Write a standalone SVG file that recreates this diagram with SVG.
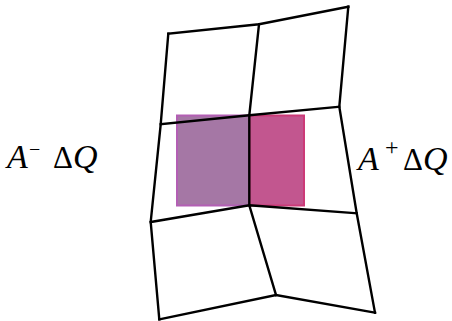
<svg xmlns="http://www.w3.org/2000/svg" width="452" height="321" viewBox="0 0 452 321">
<style>
.grid{fill:none;stroke:#000;stroke-width:2.4;stroke-linejoin:miter;stroke-linecap:square}
.t{font-family:"Liberation Serif","Times New Roman",serif;font-size:34px;fill:#000}
.i{font-style:italic}
</style>
<rect width="452" height="321" fill="#fff"/>
<g id="cells">
<rect id="left-cell" x="177" y="115.5" width="72.5" height="90" fill="#a577a5" stroke="#b35fb4" stroke-width="2"/>
<rect id="right-cell" x="249.5" y="115.5" width="54.5" height="90" fill="#c2568f" stroke="#cc3a78" stroke-width="2"/>
</g>
<g id="connectors">
<polyline class="grid" points="168.3,33.7 259,24.3 348.3,6.7"/>
<polyline class="grid" points="160.7,124.3 249.3,115.3 339.3,106.7"/>
<polyline class="grid" points="150.7,222 249.3,205.3 356.7,213.3"/>
<polyline class="grid" points="159.3,319.3 276,295 375,312.7"/>
<polyline class="grid" points="168.3,33.7 160.7,124.3 150.7,222 159.3,319.3"/>
<polyline class="grid" points="259,24.3 249.3,115.3 249.3,205.3 276,295"/>
<polyline class="grid" points="348.3,6.7 339.3,106.7 356.7,213.3 375,312.7"/>
</g>
<g id="label-left">
<text class="t"><tspan class="i" x="7" y="168">A</tspan><tspan x="29" y="156" font-size="20">−</tspan><tspan x="53" y="168" font-size="31">Δ</tspan><tspan class="i" x="73" y="168">Q</tspan></text>
</g>
<g id="label-right">
<text class="t"><tspan class="i" x="358" y="170">A</tspan><tspan x="385" y="155" font-size="24">+</tspan><tspan x="403" y="170" font-size="31">Δ</tspan><tspan class="i" x="423" y="170">Q</tspan></text>
</g>
</svg>
